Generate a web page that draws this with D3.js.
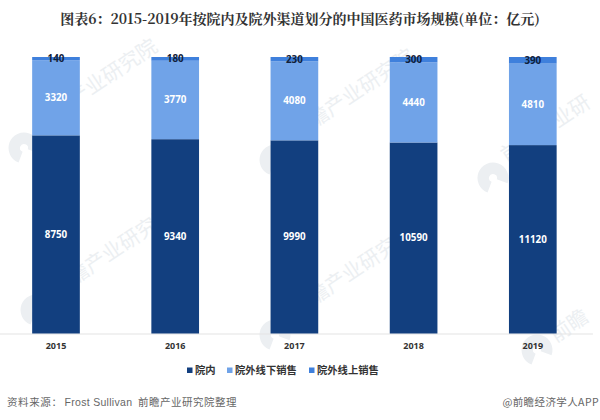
<!DOCTYPE html>
<html>
<head>
<meta charset="utf-8">
<script src="https://cdn.jsdelivr.net/npm/d3@7"></script>
<style>
  html, body { margin: 0; padding: 0; background: #fff; }
  text { font-family: "Noto Sans CJK SC", "Liberation Sans", sans-serif; }
</style>
</head>
<body>
<div id="chart"></div>
<script>
const years = ["2015", "2016", "2017", "2018", "2019"];
const hospital = [8750, 9340, 9990, 10590, 11120];
const offline = [3320, 3770, 4080, 4440, 4810];
const online = [140, 180, 230, 300, 390];
const seriesNames = ["院内", "院外线下销售", "院外线上销售"];
const seriesColors = ["#123f7f", "#70a3e8", "#3f80dc"];
const labelColors = ["#fff", "#fff", "#10203a"];
const watermarkTexts = [
  [40, 130, "前瞻产业研究院"],
  [57, 297, "前瞻产业研究院"],
  [297, 140, "前瞻产业研究院"],
  [297, 317, "前瞻产业研究院"],
  [507, 163, "前瞻产业研"],
  [556, 343, "前瞻"],
];
const watermarkLogos = [[24, 148], [36, 310], [275, 160], [275, 335], [493, 178], [537, 350]];

const width = 600;
const height = 420;

const svg = d3.select("#chart")
  .append("svg")
  .attr("width", width)
  .attr("height", height)
  .style("display", "block");

// Faint watermark behind the bars
const wm = svg.append("g").attr("fill", "#eceff2");
watermarkTexts.forEach(([wx, wy, str]) => {
  wm.append("text")
    .attr("transform", `translate(${wx}, ${wy}) rotate(-34)`)
    .attr("font-size", 20.5)
    .text(str);
});
watermarkLogos.forEach(([wx, wy]) => {
  wm.append("path")
    .attr("transform", `translate(${wx}, ${wy})`)
    .attr("d", d3.arc().innerRadius(4).outerRadius(15.5).startAngle(3.5).endAngle(8.2)());
});

// Scales
const x = d3.scaleBand()
  .domain(years)
  .range([-3.6, 592.4])
  .paddingInner(0.6)
  .paddingOuter(0.3);

const y = d3.scaleLinear()
  .domain([0, 1])
  .range([333.5, 57]);

// Stacked to 100%
const rows = years.map((year, i) => ({
  year,
  [seriesNames[0]]: hospital[i],
  [seriesNames[1]]: offline[i],
  [seriesNames[2]]: online[i],
}));

const series = d3.stack()
  .keys(seriesNames)
  .offset(d3.stackOffsetExpand)(rows);

// Baseline and year labels
const xAxis = svg.append("g")
  .attr("transform", `translate(0, ${y(0)})`)
  .call(d3.axisBottom(x).tickSize(0).tickPadding(9.5));
xAxis.select(".domain").attr("stroke", "#e3e3e3").attr("stroke-width", 1.2);
xAxis.selectAll("text")
  .attr("font-size", 9)
  .attr("font-weight", 700)
  .attr("fill", "#333")
  .style("font-family", '"Noto Sans", sans-serif');

// Bars
series.forEach((s, k) => {
  svg.append("g")
    .selectAll("rect")
    .data(s)
    .enter()
    .append("rect")
    .attr("x", (d) => x(d.data.year))
    .attr("width", x.bandwidth())
    .attr("y", (d) => y(d[1]))
    .attr("height", (d) => y(d[0]) - y(d[1]))
    .attr("fill", seriesColors[k]);

  svg.append("g")
    .selectAll("text")
    .data(s)
    .enter()
    .append("text")
    .attr("x", (d) => x(d.data.year) + x.bandwidth() / 2)
    .attr("y", (d) => y((d[0] + d[1]) / 2))
    .attr("dy", "0.35em")
    .attr("text-anchor", "middle")
    .attr("font-size", 9.8)
    .attr("font-weight", 700)
    .attr("fill", labelColors[k])
    .style("font-family", '"Noto Sans", sans-serif')
    .text((d) => d.data[seriesNames[k]]);
});

// Title
svg.append("text")
  .attr("x", 300)
  .attr("y", 23.5)
  .attr("text-anchor", "middle")
  .attr("font-size", 14)
  .attr("font-weight", 700)
  .attr("fill", "#333")
  .style("font-family", '"Noto Serif CJK SC", "Noto Sans CJK SC", serif')
  .text("图表6：2015-2019年按院内及院外渠道划分的中国医药市场规模(单位：亿元)");

// Legend
const legendX = [187, 227, 309];
const legend = svg.append("g");
seriesNames.forEach((name, i) => {
  legend.append("rect")
    .attr("x", legendX[i])
    .attr("y", 367.5)
    .attr("width", 5.5)
    .attr("height", 5.5)
    .attr("fill", seriesColors[i]);
  legend.append("text")
    .attr("x", legendX[i] + 8)
    .attr("y", 370)
    .attr("dy", "0.35em")
    .attr("font-size", 10.3)
    .attr("font-weight", 700)
    .attr("fill", "#333")
    .text(name);
});

// Source line
const footer = svg.append("g")
  .attr("font-size", 10.5)
  .attr("fill", "#666");
footer.append("text")
  .attr("x", 7)
  .attr("y", 406)
  .attr("letter-spacing", 0.6)
  .text("资料来源：");
footer.append("text")
  .attr("x", 64.5)
  .attr("y", 406)
  .attr("letter-spacing", 0.3)
  .style("font-family", '"Liberation Sans", sans-serif')
  .text("Frost Sullivan");
footer.append("text")
  .attr("x", 138)
  .attr("y", 406)
  .attr("letter-spacing", 0.5)
  .text("前瞻产业研究院整理");
footer.append("text")
  .attr("x", 599)
  .attr("y", 406)
  .attr("text-anchor", "end")
  .attr("letter-spacing", 0.4)
  .text("@前瞻经济学人APP");
</script>
</body>
</html>
